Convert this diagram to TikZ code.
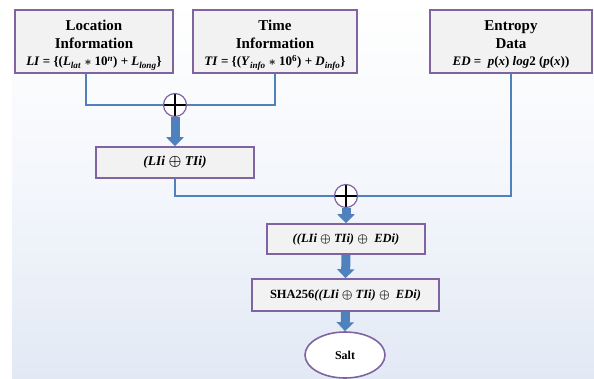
\documentclass[tikz,border=0pt]{standalone}
\usepackage{fontspec}
\setmainfont{Liberation Serif}
\usetikzlibrary{arrows.meta,shapes.geometric,calc}
\definecolor{boxpurple}{HTML}{8064A2}
\definecolor{boxfill}{HTML}{F2F2F2}
\definecolor{lineblue}{HTML}{4F81BD}
\definecolor{bgblue}{HTML}{E2E9F5}
\newcommand\sbt[1]{\textsubscript{#1}}
\newcommand\spt[1]{\textsuperscript{#1}}
\begin{document}
\begin{tikzpicture}[x=1pt,y=-1pt,
  box/.style={draw=boxpurple,fill=boxfill,line width=1.6pt,rectangle,inner sep=0pt,align=center},
  xor/.style={circle,draw=boxpurple,fill=white,minimum size=23pt,inner sep=0pt,line width=1.2pt,
    path picture={\draw[black,line width=2.2pt]
      (path picture bounding box.north) -- (path picture bounding box.south)
      (path picture bounding box.west) -- (path picture bounding box.east);}},
  link/.style={draw=lineblue,line width=2pt},
  fat/.style={draw=lineblue,line width=9pt,-{Triangle[width=17pt,length=9pt]}},
  title/.style={font=\fontsize{15}{18}\selectfont\bfseries},
  formula/.style={anchor=base,font=\fontsize{13}{15}\selectfont\bfseries\boldmath},
]
\useasboundingbox (0,0) rectangle (594,379);
\shade[top color=white,bottom color=bgblue,middle color=white!60!bgblue] (12,0) rectangle (594,379);

\node[box,minimum width=158pt,minimum height=63pt] (li) at (94,41.5) {};
\node[title,anchor=base] at (94,31) {Location};
\node[title,anchor=base] at (94,49) {Information};
\node[formula] at (94,66)
  {\textit{LI} = \{(\textit{L}\sbt{\textit{lat}} $*$ 10\spt{\textit{n}}) + \textit{L}\sbt{\textit{long}}\}};

\node[box,minimum width=164pt,minimum height=63pt] (ti) at (275,41.5) {};
\node[title,anchor=base] at (275,31) {Time};
\node[title,anchor=base] at (275,49) {Information};
\node[formula] at (275,66)
  {\textit{TI} = \{(\textit{Y}\sbt{\textit{info}} $*$ 10\spt{6}) + \textit{D}\sbt{\textit{info}}\}};

\node[box,minimum width=162pt,minimum height=63pt] (ed) at (511,41.5) {};
\node[title,anchor=base] at (511,31) {Entropy};
\node[title,anchor=base] at (511,49) {Data};
\node[formula] at (511,66)
  {\textit{ED} = \ \textit{p}(\textit{x}) \textit{log}2 (\textit{p}(\textit{x}))};

\node[xor] (x1) at (175,105) {};
\node[box,minimum width=158pt,minimum height=31pt,font=\fontsize{13.5}{15}\selectfont\bfseries\itshape\boldmath] (b2) at (175,162.5) {(LIi $\oplus$ TIi)};
\node[xor] (x2) at (346,196) {};
\node[box,minimum width=158pt,minimum height=30pt,font=\fontsize{12.5}{14}\selectfont\bfseries\itshape\boldmath] (b3) at (346,239) {((LIi $\oplus$ TIi) $\oplus$ \ EDi)};
\node[box,minimum width=187pt,minimum height=32pt,font=\fontsize{12.5}{14}\selectfont\bfseries\boldmath] (b4) at (345.5,295) {SHA256\textit{((LIi $\oplus$ TIi) $\oplus$ \ EDi)}};
\node[ellipse,draw=boxpurple,fill=white,line width=1.6pt,minimum width=80pt,minimum height=46pt,inner sep=0pt,font=\fontsize{12}{14}\selectfont\bfseries] (salt) at (345,355) {Salt};

\draw[link] ($(li.south)+(-8,0)$) |- (x1.west);
\draw[link] (ti.south) |- (x1.east);
\draw[link] (b2.south) |- (x2.west);
\draw[link] (ed.south) |- (x2.east);
\draw[fat] (x1.south) -- (b2.north);
\draw[fat] (x2.south) -- (b3.north);
\draw[fat] (b3.south) -- (b4.north);
\draw[fat] (b4.south) -- (salt.north);
\end{tikzpicture}
\end{document}
